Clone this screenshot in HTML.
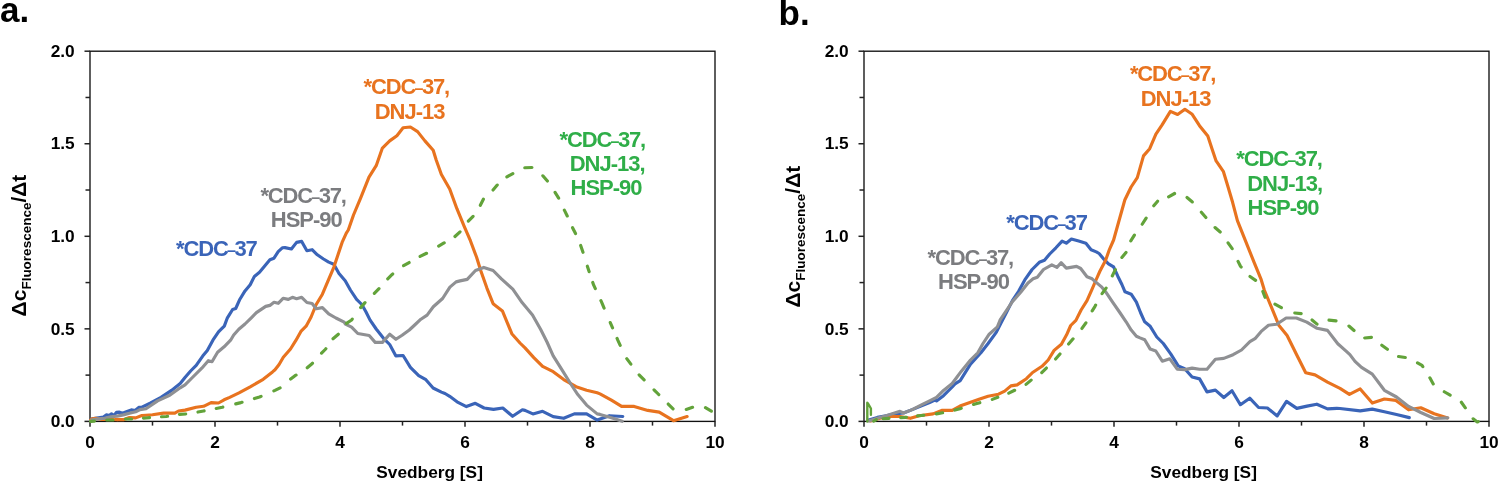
<!DOCTYPE html>
<html><head><meta charset="utf-8"><style>
html,body{margin:0;padding:0;background:#fff;}
svg{display:block;will-change:transform;}
text{font-family:"Liberation Sans",sans-serif;font-weight:bold;}
.tk{font-size:17.3px;fill:#000;}
.lb{font-size:22px;letter-spacing:-1px;}
.at{font-size:17.3px;fill:#000;}
.yt{font-size:21px;fill:#000;}
.sub{font-size:13.5px;}
.pl{font-size:35px;fill:#000;}
</style></head><body>
<svg width="1499" height="483" viewBox="0 0 1499 483">
<rect x="90" y="51.2" width="625" height="370.2" fill="none" stroke="#111111" stroke-width="1.35"/>
<line x1="84.5" y1="421.40" x2="90" y2="421.40" stroke="#222" stroke-width="1.5"/>
<line x1="85.5" y1="375.12" x2="90" y2="375.12" stroke="#222" stroke-width="1.5"/>
<line x1="84.5" y1="328.85" x2="90" y2="328.85" stroke="#222" stroke-width="1.5"/>
<line x1="85.5" y1="282.57" x2="90" y2="282.57" stroke="#222" stroke-width="1.5"/>
<line x1="84.5" y1="236.30" x2="90" y2="236.30" stroke="#222" stroke-width="1.5"/>
<line x1="85.5" y1="190.02" x2="90" y2="190.02" stroke="#222" stroke-width="1.5"/>
<line x1="84.5" y1="143.75" x2="90" y2="143.75" stroke="#222" stroke-width="1.5"/>
<line x1="85.5" y1="97.47" x2="90" y2="97.47" stroke="#222" stroke-width="1.5"/>
<line x1="84.5" y1="51.20" x2="90" y2="51.20" stroke="#222" stroke-width="1.5"/>
<line x1="90.00" y1="421.4" x2="90.00" y2="426.79999999999995" stroke="#222" stroke-width="1.5"/>
<line x1="152.50" y1="421.4" x2="152.50" y2="425.59999999999997" stroke="#222" stroke-width="1.5"/>
<line x1="215.00" y1="421.4" x2="215.00" y2="426.79999999999995" stroke="#222" stroke-width="1.5"/>
<line x1="277.50" y1="421.4" x2="277.50" y2="425.59999999999997" stroke="#222" stroke-width="1.5"/>
<line x1="340.00" y1="421.4" x2="340.00" y2="426.79999999999995" stroke="#222" stroke-width="1.5"/>
<line x1="402.50" y1="421.4" x2="402.50" y2="425.59999999999997" stroke="#222" stroke-width="1.5"/>
<line x1="465.00" y1="421.4" x2="465.00" y2="426.79999999999995" stroke="#222" stroke-width="1.5"/>
<line x1="527.50" y1="421.4" x2="527.50" y2="425.59999999999997" stroke="#222" stroke-width="1.5"/>
<line x1="590.00" y1="421.4" x2="590.00" y2="426.79999999999995" stroke="#222" stroke-width="1.5"/>
<line x1="652.50" y1="421.4" x2="652.50" y2="425.59999999999997" stroke="#222" stroke-width="1.5"/>
<line x1="715.00" y1="421.4" x2="715.00" y2="426.79999999999995" stroke="#222" stroke-width="1.5"/>
<text x="74.7" y="427.1" text-anchor="end" class="tk">0.0</text>
<text x="74.7" y="334.5" text-anchor="end" class="tk">0.5</text>
<text x="74.7" y="242.0" text-anchor="end" class="tk">1.0</text>
<text x="74.7" y="149.4" text-anchor="end" class="tk">1.5</text>
<text x="74.7" y="56.9" text-anchor="end" class="tk">2.0</text>
<text x="90.0" y="447.8" text-anchor="middle" class="tk">0</text>
<text x="215.0" y="447.8" text-anchor="middle" class="tk">2</text>
<text x="340.0" y="447.8" text-anchor="middle" class="tk">4</text>
<text x="465.0" y="447.8" text-anchor="middle" class="tk">6</text>
<text x="590.0" y="447.8" text-anchor="middle" class="tk">8</text>
<text x="715.0" y="447.8" text-anchor="middle" class="tk">10</text>
<rect x="864" y="51.2" width="625" height="370.2" fill="none" stroke="#111111" stroke-width="1.35"/>
<line x1="858.5" y1="421.40" x2="864" y2="421.40" stroke="#222" stroke-width="1.5"/>
<line x1="859.5" y1="375.12" x2="864" y2="375.12" stroke="#222" stroke-width="1.5"/>
<line x1="858.5" y1="328.85" x2="864" y2="328.85" stroke="#222" stroke-width="1.5"/>
<line x1="859.5" y1="282.57" x2="864" y2="282.57" stroke="#222" stroke-width="1.5"/>
<line x1="858.5" y1="236.30" x2="864" y2="236.30" stroke="#222" stroke-width="1.5"/>
<line x1="859.5" y1="190.02" x2="864" y2="190.02" stroke="#222" stroke-width="1.5"/>
<line x1="858.5" y1="143.75" x2="864" y2="143.75" stroke="#222" stroke-width="1.5"/>
<line x1="859.5" y1="97.47" x2="864" y2="97.47" stroke="#222" stroke-width="1.5"/>
<line x1="858.5" y1="51.20" x2="864" y2="51.20" stroke="#222" stroke-width="1.5"/>
<line x1="864.00" y1="421.4" x2="864.00" y2="426.79999999999995" stroke="#222" stroke-width="1.5"/>
<line x1="926.50" y1="421.4" x2="926.50" y2="425.59999999999997" stroke="#222" stroke-width="1.5"/>
<line x1="989.00" y1="421.4" x2="989.00" y2="426.79999999999995" stroke="#222" stroke-width="1.5"/>
<line x1="1051.50" y1="421.4" x2="1051.50" y2="425.59999999999997" stroke="#222" stroke-width="1.5"/>
<line x1="1114.00" y1="421.4" x2="1114.00" y2="426.79999999999995" stroke="#222" stroke-width="1.5"/>
<line x1="1176.50" y1="421.4" x2="1176.50" y2="425.59999999999997" stroke="#222" stroke-width="1.5"/>
<line x1="1239.00" y1="421.4" x2="1239.00" y2="426.79999999999995" stroke="#222" stroke-width="1.5"/>
<line x1="1301.50" y1="421.4" x2="1301.50" y2="425.59999999999997" stroke="#222" stroke-width="1.5"/>
<line x1="1364.00" y1="421.4" x2="1364.00" y2="426.79999999999995" stroke="#222" stroke-width="1.5"/>
<line x1="1426.50" y1="421.4" x2="1426.50" y2="425.59999999999997" stroke="#222" stroke-width="1.5"/>
<line x1="1489.00" y1="421.4" x2="1489.00" y2="426.79999999999995" stroke="#222" stroke-width="1.5"/>
<text x="848.7" y="427.1" text-anchor="end" class="tk">0.0</text>
<text x="848.7" y="334.5" text-anchor="end" class="tk">0.5</text>
<text x="848.7" y="242.0" text-anchor="end" class="tk">1.0</text>
<text x="848.7" y="149.4" text-anchor="end" class="tk">1.5</text>
<text x="848.7" y="56.9" text-anchor="end" class="tk">2.0</text>
<text x="864.0" y="447.8" text-anchor="middle" class="tk">0</text>
<text x="989.0" y="447.8" text-anchor="middle" class="tk">2</text>
<text x="1114.0" y="447.8" text-anchor="middle" class="tk">4</text>
<text x="1239.0" y="447.8" text-anchor="middle" class="tk">6</text>
<text x="1364.0" y="447.8" text-anchor="middle" class="tk">8</text>
<text x="1489.0" y="447.8" text-anchor="middle" class="tk">10</text>
<polyline points="90.6,420.0 92.2,418.9 98.4,417.7 103.4,417.0 106.5,414.9 109.0,415.5 111.5,413.9 114.0,415.5 116.4,412.4 119.5,412.1 122.6,413.3 126.4,411.8 131.3,409.9 135.1,410.5 138.8,407.4 141.9,407.1 146.0,405.2 150.6,403.0 161.0,397.4 171.5,390.4 180.2,383.5 185.0,377.5 190.6,371.0 196.2,365.4 202.7,356.1 207.3,350.5 212.9,340.2 218.5,331.9 221.2,329.2 224.3,326.1 227.4,317.8 232.6,309.5 235.7,308.5 239.9,299.2 245.0,290.9 250.2,284.7 254.4,276.4 259.5,272.3 264.7,266.1 269.9,259.8 274.0,258.2 278.2,251.6 282.3,247.8 285.0,247.6 291.4,249.0 296.6,242.4 301.7,241.4 306.9,250.7 312.1,249.7 317.3,254.8 323.5,259.0 328.7,262.1 333.8,264.2 339.0,273.5 345.2,280.7 350.4,290.0 356.6,299.4 361.8,304.5 365.9,311.8 370.1,320.1 376.2,329.0 383.5,338.3 389.7,344.5 395.9,355.9 403.1,355.5 410.4,367.3 418.7,375.6 425.9,379.7 433.1,388.0 441.4,392.1 445.0,393.5 449.7,396.3 458.0,402.4 466.4,406.6 475.3,403.3 484.1,408.0 493.5,409.4 502.8,408.0 512.6,416.3 522.4,409.8 525.0,410.4 532.9,413.9 542.6,411.3 553.2,416.6 563.7,418.3 574.3,413.9 586.6,413.9 597.2,420.1 609.5,415.7 622.8,416.5" fill="none" stroke="#3a64b8" stroke-width="3.15" stroke-linejoin="round" stroke-linecap="round"/>
<polyline points="90.6,420.0 92.2,418.9 95.9,418.3 101.5,419.5 107.7,419.2 117.1,419.8 116.0,419.5 124.0,419.6 129.5,417.6 135.7,417.9 141.9,415.5 146.0,415.2 152.4,414.7 163.6,413.1 174.8,413.1 178.5,411.0 185.0,410.1 196.2,407.3 203.6,406.3 211.1,402.6 218.5,403.0 224.1,399.8 229.7,397.4 239.0,392.9 250.2,386.8 263.2,379.3 272.5,371.9 275.0,369.7 279.1,364.5 283.3,357.3 290.5,349.0 295.7,340.7 300.9,331.4 306.1,326.2 311.1,317.0 316.2,304.5 322.4,294.2 327.6,281.8 333.8,267.3 338.0,254.8 342.1,242.4 346.3,233.1 348.3,230.0 353.5,215.0 360.7,197.8 369.0,177.1 376.2,165.7 382.4,148.1 389.7,140.9 396.9,135.7 403.1,127.8 410.4,127.0 417.6,131.6 424.9,140.9 433.2,150.2 436.2,160.0 441.4,174.5 449.7,189.0 456.9,208.7 464.2,226.3 470.4,240.7 476.6,257.3 480.7,270.5 486.9,288.1 493.1,303.7 502.4,310.9 511.8,333.7 520.0,343.0 525.0,347.9 533.8,357.6 542.6,366.4 553.2,371.7 563.7,379.6 576.1,386.7 586.6,390.2 597.2,392.8 600.0,393.9 611.4,400.2 621.6,406.4 634.2,406.4 647.8,410.4 659.2,412.1 673.5,420.7 687.1,416.5" fill="none" stroke="#e8731f" stroke-width="3.15" stroke-linejoin="round" stroke-linecap="round"/>
<polyline points="90.6,421.0 92.2,419.8 98.4,418.9 104.6,418.3 110.8,416.7 117.1,416.1 123.3,414.9 129.5,413.3 135.7,411.8 140.0,409.6 146.0,408.7 157.6,400.9 169.7,395.3 180.2,387.8 185.0,384.9 192.4,377.5 201.8,368.2 208.3,360.7 212.0,361.7 217.6,352.3 224.1,346.8 230.6,340.2 233.7,335.0 238.8,329.2 245.0,324.0 251.3,317.8 256.4,312.6 265.7,306.4 269.9,305.4 274.0,302.3 278.2,303.3 283.1,298.3 288.3,299.4 292.4,297.3 296.6,298.7 301.7,297.3 306.9,302.5 312.1,303.5 316.2,308.7 322.4,307.6 328.7,313.9 335.9,318.0 344.2,322.1 345.4,324.1 351.6,327.2 357.8,333.5 369.2,335.5 375.2,342.4 382.4,342.4 389.7,334.2 395.9,339.3 402.1,335.2 409.3,330.0 414.7,325.0 420.9,319.2 427.1,315.1 433.3,306.8 442.6,298.5 449.9,287.1 456.1,281.9 460.0,280.9 467.2,279.4 475.5,270.5 483.8,267.4 493.1,270.5 501.4,278.8 512.8,289.2 522.1,302.6 532.5,315.0 540.7,329.5 547.0,342.0 553.2,355.8 562.0,369.9 570.8,384.0 577.8,394.6 586.6,405.1 597.2,413.9 600.0,414.4 611.4,417.8 622.2,421.3" fill="none" stroke="#8f9093" stroke-width="3.15" stroke-linejoin="round" stroke-linecap="round"/>
<polyline points="90.6,421.4 95.9,421.1 105.0,420.0 114.0,420.0 124.0,419.0 133.0,419.0 142.0,418.3 146.0,418.0 155.0,417.0 166.3,416.5 178.0,414.5 188.0,413.9 203.6,411.0 222.2,407.3 240.9,402.6 259.5,397.0 275.0,390.4 281.2,387.3 289.5,380.0 294.7,375.9 306.1,368.7 312.3,363.5 320.5,354.2 325.7,349.0 331.9,339.7 339.2,333.5 345.4,324.1 351.6,320.0 359.7,308.7 365.0,302.6 373.3,294.4 378.5,289.2 386.7,279.9 391.9,274.7 402.3,266.4 409.5,262.3 418.8,257.1 427.1,253.0 437.5,246.7 443.6,243.2 453.9,237.5 460.6,231.3 467.3,222.1 473.5,215.9 479.7,206.6 483.8,198.3 492.1,191.1 498.3,183.8 505.6,177.6 514.9,172.4 523.3,167.8 533.6,167.4 541.9,174.7 548.1,181.9 554.3,191.2 559.5,199.5 563.7,208.8 567.8,217.1 571.9,226.4 576.1,234.7 580.2,244.0 583.3,253.3 586.9,264.8 593.6,284.9 601.7,302.4 609.7,321.2 617.8,340.1 625.9,357.5 638.0,373.7 645.0,380.8 653.0,388.8 658.7,394.5 667.2,403.0 673.5,409.3 684.9,409.9 693.4,407.0 704.2,407.0 712.2,411.6 715.0,412.5" fill="none" stroke="#62a33a" stroke-width="3.15" stroke-linejoin="round" stroke-linecap="round" stroke-dasharray="6.32 12.45 6.31 12.44 6.07 11.96 6.08 11.99 6.12 12.06 6.28 12.38 6.28 12.37 6.74 13.28 6.54 12.90 7.04 13.88 6.97 13.73 6.77 13.34 6.90 13.59 6.24 12.29 6.95 13.70 7.24 14.27 6.65 13.10 6.65 13.10 6.95 13.71 6.38 12.56 7.17 14.13 6.37 12.55 6.90 13.61 6.71 13.23 6.82 13.43 6.45 12.71 6.81 13.42 7.19 14.17 6.96 13.72 6.73 13.27 6.54 12.88 6.55 12.91 7.36 14.50 5.75 11.33 6.75 13.31 8.00 15.76 5.81 11.45 7.57 14.92 6.85 13.51 7.12 14.02 6.76 13.32 6.84 13.48 6.66 13.12 6.80 13.40 6.80 60.90" stroke-dashoffset="946.43"/>
<polyline points="868.7,420.0 877.4,417.4 886.1,415.7 894.8,413.9 903.5,413.0 912.2,409.6 920.9,406.1 929.6,402.6 934.8,400.0 936.5,400.9 943.5,395.7 952.2,387.0 955.0,383.9 960.2,380.7 970.5,364.2 980.9,352.8 988.1,343.5 996.4,332.1 1001.0,323.0 1006.2,313.0 1012.4,300.6 1018.6,291.3 1024.8,279.9 1032.1,269.5 1039.3,262.3 1044.5,260.2 1049.7,254.0 1055.9,247.8 1062.1,241.1 1066.3,243.2 1071.4,239.1 1078.7,241.1 1085.9,243.2 1091.1,249.8 1096.3,251.9 1099.1,253.5 1104.3,259.7 1108.5,263.8 1113.6,266.9 1117.8,276.2 1121.9,284.5 1125.0,291.8 1131.2,294.2 1136.4,302.1 1140.5,312.5 1144.7,321.8 1149.9,325.9 1156.8,337.0 1163.3,343.5 1170.7,353.8 1178.2,365.9 1184.7,368.7 1192.1,377.0 1199.6,378.9 1207.0,391.9 1215.4,390.1 1223.8,397.5 1232.0,390.7 1240.4,404.7 1249.7,398.2 1258.6,407.5 1267.4,408.0 1277.2,415.9 1286.5,401.4 1296.8,408.4 1307.0,406.1 1316.8,404.2 1327.5,408.9 1336.8,408.4 1340.0,408.5 1360.2,410.9 1372.3,409.1 1384.4,411.8 1396.5,414.5 1409.3,417.6" fill="none" stroke="#3a64b8" stroke-width="3.15" stroke-linejoin="round" stroke-linecap="round"/>
<polyline points="870.4,420.9 886.1,416.5 900.0,416.5 910.4,418.3 919.1,415.7 933.0,413.9 941.7,410.4 952.2,410.4 960.0,406.1 979.8,399.0 988.1,396.3 998.5,394.2 1004.7,391.1 1010.9,385.9 1017.1,384.9 1026.4,378.7 1032.6,372.5 1042.0,366.3 1048.2,360.0 1054.1,350.4 1061.4,344.2 1066.6,334.8 1070.7,325.5 1075.9,320.4 1081.1,310.0 1087.0,300.6 1092.1,289.2 1096.0,280.0 1100.0,271.0 1105.4,260.7 1109.5,249.3 1113.6,240.0 1124.8,200.0 1131.1,187.0 1137.3,177.6 1143.5,155.9 1149.7,148.7 1155.9,134.2 1162.1,124.8 1170.4,111.4 1177.6,114.5 1184.9,109.3 1192.2,114.3 1199.5,125.7 1207.8,136.1 1211.9,148.5 1216.1,160.9 1223.3,171.3 1227.4,184.7 1232.6,202.3 1237.4,220.7 1245.7,241.4 1254.0,262.1 1261.2,279.7 1264.3,290.0 1271.6,307.6 1278.8,325.2 1287.1,335.5 1296.4,354.2 1305.7,372.8 1315.0,374.9 1327.5,382.1 1340.0,388.3 1349.4,394.3 1360.2,388.9 1372.3,403.1 1384.4,399.0 1395.9,400.4 1408.6,409.8 1420.8,407.8 1434.2,413.8 1447.7,417.9" fill="none" stroke="#e8731f" stroke-width="3.15" stroke-linejoin="round" stroke-linecap="round"/>
<polyline points="868.7,420.9 877.4,418.3 886.1,415.7 900.0,411.3 903.5,413.0 912.2,409.6 920.9,405.2 929.6,400.9 936.5,397.4 943.5,390.4 952.2,383.5 955.0,379.7 961.2,371.4 970.5,360.0 977.8,352.8 983.0,343.5 989.2,334.2 997.4,326.9 1000.0,320.2 1006.2,310.9 1012.4,301.6 1020.7,292.3 1028.0,283.0 1033.1,278.8 1037.3,277.2 1043.5,269.5 1051.8,264.8 1056.9,267.4 1061.1,262.7 1066.3,268.1 1076.6,266.4 1080.7,268.5 1087.0,276.8 1092.1,278.8 1095.0,281.4 1101.2,286.6 1106.4,292.8 1112.6,302.1 1119.8,312.5 1126.1,321.8 1131.2,330.1 1136.4,336.3 1140.0,337.9 1144.7,339.8 1150.2,349.1 1155.8,351.0 1162.3,361.2 1169.8,358.8 1177.2,369.2 1184.7,369.6 1192.1,368.1 1199.6,369.2 1207.0,369.2 1215.4,359.3 1223.8,358.4 1233.1,354.7 1241.5,350.0 1249.9,341.7 1255.0,338.7 1261.2,331.4 1268.5,325.2 1276.7,324.2 1286.1,318.0 1296.4,318.0 1306.8,322.1 1317.1,328.3 1327.5,330.4 1337.8,343.8 1346.1,351.1 1349.9,354.6 1355.0,361.4 1361.5,367.4 1372.3,374.1 1384.4,390.3 1396.5,397.0 1408.6,406.4 1420.8,412.5 1434.2,418.5 1447.7,417.9" fill="none" stroke="#8f9093" stroke-width="3.15" stroke-linejoin="round" stroke-linecap="round"/>
<polyline points="867.3,421.5 867.3,402.8 868.6,404.5 870.9,408.5 870.9,414.8" fill="none" stroke="#62a33a" stroke-width="2.4" stroke-linejoin="round" stroke-linecap="round"/>
<polyline points="873.6,421.2 876.4,419.6" fill="none" stroke="#62a33a" stroke-width="3" stroke-linejoin="round" stroke-linecap="round"/>
<polyline points="872.5,421.5 877.4,419.1 889.6,418.3 905.2,417.4 919.1,415.7 936.5,413.9 950.4,411.3 960.0,408.7 975.0,404.0 992.3,399.4 1008.8,393.2 1025.4,384.9 1031.6,379.7 1039.9,374.5 1046.1,368.3 1054.1,360.7 1060.4,353.5 1067.6,345.2 1073.8,338.0 1081.1,329.7 1086.2,322.4 1091.4,312.1 1095.0,306.3 1101.2,294.9 1106.4,287.6 1111.6,277.3 1115.7,269.0 1120.9,258.6 1126.1,252.4 1130.0,242.1 1135.2,233.8 1141.4,225.5 1146.6,217.3 1152.8,206.9 1158.0,200.7 1167.3,197.5 1175.5,193.0 1185.9,196.5 1192.1,201.7 1200.4,211.1 1206.6,218.3 1213.9,226.6 1221.1,232.8 1227.2,241.7 1232.2,248.7 1237.4,260.0 1240.5,266.3 1248.8,275.6 1256.1,280.7 1262.3,290.1 1265.4,298.3 1273.6,303.5 1283.0,308.6 1293.3,312.8 1302.6,313.8 1310.9,319.0 1317.1,324.2 1327.5,320.0 1337.8,321.1 1347.5,324.8 1354.1,330.6 1363.2,338.1 1372.3,337.3 1380.6,344.4 1388.0,349.7 1397.1,356.3 1406.2,357.6 1416.2,362.1 1422.0,365.4 1423.6,367.9 1429.4,377.0 1434.2,385.6 1443.0,391.0 1451.0,395.7 1460.5,401.0 1465.8,408.5 1471.9,417.9 1477.3,421.9 1488.7,419.2" fill="none" stroke="#62a33a" stroke-width="3.15" stroke-linejoin="round" stroke-linecap="round" stroke-dasharray="6.42 12.65 5.97 11.76 5.69 11.20 6.36 12.54 6.42 12.64 6.54 12.88 6.53 12.86 5.95 11.73 6.53 12.86 6.63 13.06 6.54 12.89 6.66 13.13 6.92 13.64 6.88 13.56 6.67 13.14 6.90 13.60 7.03 13.85 6.43 12.67 6.78 13.37 7.34 14.47 6.03 11.89 6.84 13.48 6.95 13.69 6.92 13.64 6.83 13.46 7.08 13.96 6.56 12.93 6.79 13.38 6.22 12.26 7.34 14.47 6.45 12.70 6.50 12.81 7.12 14.02 6.79 13.39 6.75 13.31 6.85 13.50 6.79 13.37 6.69 13.18 6.98 13.75 6.79 13.37 6.86 13.53 6.21 12.23 6.80 55.40" stroke-dashoffset="900.55"/>
<text x="363.6" y="94.1" class="lb" style="letter-spacing:-1.15px" fill="#e8731f">*CDC<tspan font-size="16px" dx="-0.8">–</tspan><tspan dx="-0.3">37,</tspan></text>
<text x="374.7" y="118.8" class="lb" fill="#e8731f">DNJ-13</text>
<text x="260.4" y="202.8" class="lb" style="letter-spacing:-1.15px" fill="#7b7c7f">*CDC<tspan font-size="16px" dx="-0.8">–</tspan><tspan dx="-0.3">37,</tspan></text>
<text x="270.8" y="226.6" class="lb" fill="#7b7c7f">HSP-90</text>
<text x="176.1" y="256.0" class="lb" style="letter-spacing:-1.15px" fill="#3a64b8">*CDC<tspan font-size="16px" dx="-0.8">–</tspan><tspan dx="-0.3">37</tspan></text>
<text x="559.6" y="147.2" class="lb" style="letter-spacing:-1.15px" fill="#2fae48">*CDC<tspan font-size="16px" dx="-0.8">–</tspan><tspan dx="-0.3">37,</tspan></text>
<text x="569.7" y="171.3" class="lb" fill="#2fae48">DNJ-13,</text>
<text x="570.5" y="195.3" class="lb" fill="#2fae48">HSP-90</text>
<text x="1129.9" y="81.2" class="lb" style="letter-spacing:-1.15px" fill="#e8731f">*CDC<tspan font-size="16px" dx="-0.8">–</tspan><tspan dx="-0.3">37,</tspan></text>
<text x="1140.7" y="106.0" class="lb" fill="#e8731f">DNJ-13</text>
<text x="1236.3" y="165.9" class="lb" style="letter-spacing:-1.15px" fill="#2fae48">*CDC<tspan font-size="16px" dx="-0.8">–</tspan><tspan dx="-0.3">37,</tspan></text>
<text x="1247.2" y="190.5" class="lb" fill="#2fae48">DNJ-13,</text>
<text x="1247.5" y="214.5" class="lb" fill="#2fae48">HSP-90</text>
<text x="1006.3" y="229.7" class="lb" style="letter-spacing:-1.15px" fill="#3a64b8">*CDC<tspan font-size="16px" dx="-0.8">–</tspan><tspan dx="-0.3">37</tspan></text>
<text x="927.6" y="264.9" class="lb" style="letter-spacing:-1.15px" fill="#7b7c7f">*CDC<tspan font-size="16px" dx="-0.8">–</tspan><tspan dx="-0.3">37,</tspan></text>
<text x="938.0" y="288.7" class="lb" fill="#7b7c7f">HSP-90</text>
<text x="429.6" y="477.9" text-anchor="middle" class="at">Svedberg [S]</text>
<text x="1203.6" y="477.9" text-anchor="middle" class="at">Svedberg [S]</text>
<text transform="translate(26.3,316.4) rotate(-90)" class="yt">Δc<tspan class="sub" dy="4.8">Fluorescence</tspan><tspan dy="-4.8">/Δt</tspan></text>
<text transform="translate(800.4,307.5) rotate(-90)" class="yt">Δc<tspan class="sub" dy="4.8">Fluorescence</tspan><tspan dy="-4.8">/Δt</tspan></text>
<text x="0" y="21.7" class="pl">a.</text>
<text x="778.5" y="24.8" class="pl">b.</text>
</svg>
</body></html>
